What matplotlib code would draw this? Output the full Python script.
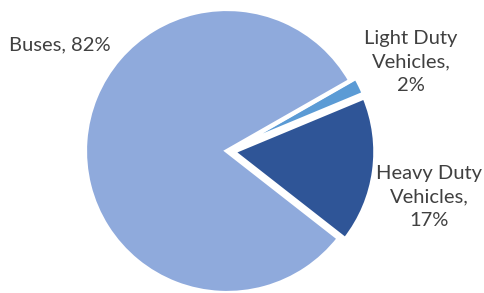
import matplotlib
matplotlib.use("Agg")
import matplotlib.pyplot as plt

categories = ["Heavy Duty\nVehicles,", "Light Duty\nVehicles,", "Buses,"]
values = [17, 2, 82]
labels_pct = ["17%", "2%", "82%"]
colors = ["#2F5597", "#5B9BD5", "#8FAADC"]
explode = [0.045, 0.045, 0.0]

W, H = 484, 293
fig = plt.figure(figsize=(W / 100, H / 100), dpi=100)
ax = fig.add_axes([0, 0, 1, 1])

cx, cy, R = 227, 151, 142  # pixel centre and radius

ax.pie(values, colors=colors, explode=explode, startangle=-38, counterclock=True,
       wedgeprops=dict(edgecolor="white", linewidth=3), radius=1.0)

ax.set_aspect("auto")
ax.set_xlim(-cx / R, (W - cx) / R)
ax.set_ylim(-(H - cy) / R, cy / R)
ax.axis("off")

def px(x, y):
    return (x - cx) / R, (cy - y) / R

font = dict(family=["Lato", "DejaVu Sans"], fontsize=14.5, color="#404040",
            ha="center", va="center", linespacing=1.45)
ax.text(*px(60, 45), categories[2] + " " + labels_pct[2], **font)
ax.text(*px(411, 62), categories[1] + "\n" + labels_pct[1], **font)
ax.text(*px(429, 197), categories[0] + "\n" + labels_pct[0], **font)

fig.savefig("out.png", dpi=100)
